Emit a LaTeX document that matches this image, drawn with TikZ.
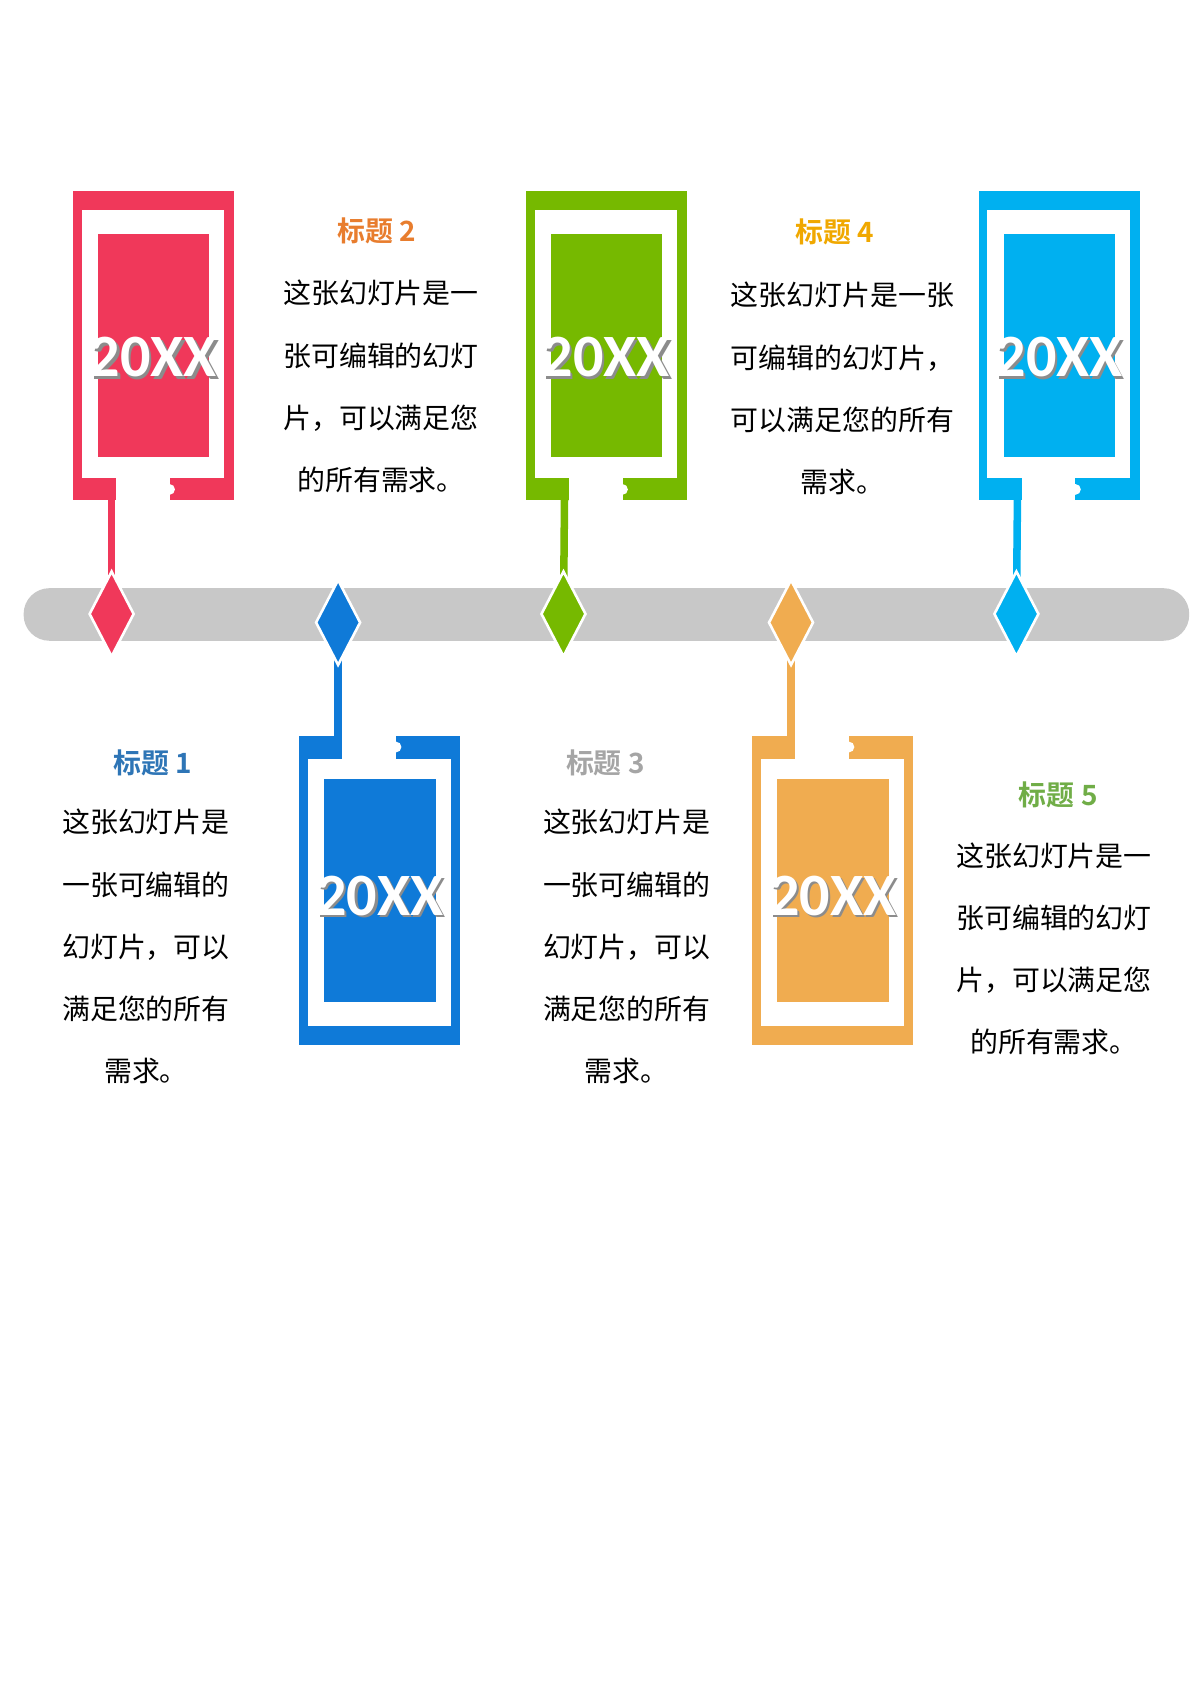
\documentclass[tikz,border=0pt]{standalone}
\usepackage{fontspec}
\setmainfont{Carlito}
\newfontfamily\cjk[BoldFont={* Bold}]{Noto Sans CJK SC}
\usetikzlibrary{shapes.geometric}

\definecolor{cRed}{HTML}{F0385A}
\definecolor{cBlue}{HTML}{0F7AD8}
\definecolor{cGreen}{HTML}{76B900}
\definecolor{cOrange}{HTML}{F0AC50}
\definecolor{cSky}{HTML}{00B0F0}
\definecolor{cBar}{HTML}{C8C8C8}
\definecolor{tOrange}{HTML}{E87D2E}
\definecolor{tGold}{HTML}{F0A800}
\definecolor{tBlue}{HTML}{2E75B6}
\definecolor{tGray}{HTML}{A5A5A5}
\definecolor{tGreen}{HTML}{70AD47}

\tikzset{
  gem/.style={diamond, draw=white, line width=1.2pt, fill=#1,
    minimum width=21pt, minimum height=40pt, inner sep=0pt, aspect=0.5},
  yeartext/.style={font=\bfseries\fontsize{28}{28}\selectfont, text=white},
  yearshadow/.style={font=\bfseries\fontsize{28}{28}\selectfont, text=black!45},
  headtext/.style={font=\cjk\bfseries\fontsize{13}{13}\selectfont, text=#1},
  bodytext/.style={font=\cjk\fontsize{13}{29}\selectfont, align=center},
  stem/.style={#1, line width=3.5pt}
}

% box hanging above the bar: #1 left edge, #2 colour, #3 name
\newcommand\topcard[3]{
  \fill[#2] (#1,178) rectangle ++(150,288);
  \fill[white] (#1+8,196) rectangle (#1+141,445);
  \fill[white] (#1+40,444) rectangle (#1+90,467);
  \fill[white] (#1+90,456) circle (5);
  \fill[#2] (#1+23,218) rectangle (#1+127,426);
  \node[yearshadow] at (#1+77,335) {20XX};
  \node[yeartext] (#3) at (#1+75,333) {20XX};
  \coordinate (#3s) at (#1+36,460);
}
% box standing below the bar
\newcommand\lowcard[3]{
  \fill[#2] (#1,686) rectangle ++(150,288);
  \fill[white] (#1+8,707) rectangle (#1+141,956);
  \fill[white] (#1+40,685) rectangle (#1+90,708);
  \fill[white] (#1+90,696) circle (5);
  \fill[#2] (#1+23,726) rectangle (#1+127,934);
  \node[yearshadow] at (#1+77,837) {20XX};
  \node[yeartext] (#3) at (#1+75,835) {20XX};
  \coordinate (#3s) at (#1+36,692);
}

\begin{document}
\begin{tikzpicture}[x=0.5pt, y=-0.5pt]
\useasboundingbox (0,0) rectangle (1110,1569);

% bar
\fill[cBar, rounded corners=12pt] (22,548) rectangle (1108,597);

\topcard{68}{cRed}{y1}
\topcard{490}{cGreen}{y3}
\topcard{912}{cSky}{y5}
\lowcard{279}{cBlue}{y2}
\lowcard{701}{cOrange}{y4}

% diamond positions
\coordinate (d1) at (104,572);
\coordinate (d2) at (315,580);
\coordinate (d3) at (525,572);
\coordinate (d4) at (737,580);
\coordinate (d5) at (947,572);
\draw[stem=cRed] (y1s) -- (d1);
\draw[stem=cBlue] (y2s) -- (d2);
\draw[stem=cGreen] (y3s) -- (d3);
\draw[stem=cOrange] (y4s) -- (d4);
\draw[stem=cSky] (y5s) -- (d5);
\node[gem=cRed] (g1) at (d1) {};
\node[gem=cBlue] (g2) at (d2) {};
\node[gem=cGreen] (g3) at (d3) {};
\node[gem=cOrange] (g4) at (d4) {};
\node[gem=cSky] (g5) at (d5) {};

% titles and texts
\node[headtext=tOrange] (h2) at (351,215) {标题 2};
\node[bodytext, anchor=north] (b2) at (355,254) {这张幻灯片是一\\张可编辑的幻灯\\片，可以满足您\\的所有需求。};
\node[headtext=tGold] (h4) at (778,216) {标题 4};
\node[bodytext, anchor=north] (b4) at (785,256) {这张幻灯片是一张\\可编辑的幻灯片，\\可以满足您的所有\\需求。};
\node[headtext=tBlue] (h1) at (142,711) {标题 1};
\node[bodytext, anchor=north] (b1) at (136,747) {这张幻灯片是\\一张可编辑的\\幻灯片，可以\\满足您的所有\\需求。};
\node[headtext=tGray] (h3) at (564,711) {标题 3};
\node[bodytext, anchor=north] (b3) at (584,747) {这张幻灯片是\\一张可编辑的\\幻灯片，可以\\满足您的所有\\需求。};
\node[headtext=tGreen] (h5) at (986,741) {标题 5};
\node[bodytext, anchor=north] (b5) at (982,778) {这张幻灯片是一\\张可编辑的幻灯\\片，可以满足您\\的所有需求。};
\end{tikzpicture}
\end{document}
